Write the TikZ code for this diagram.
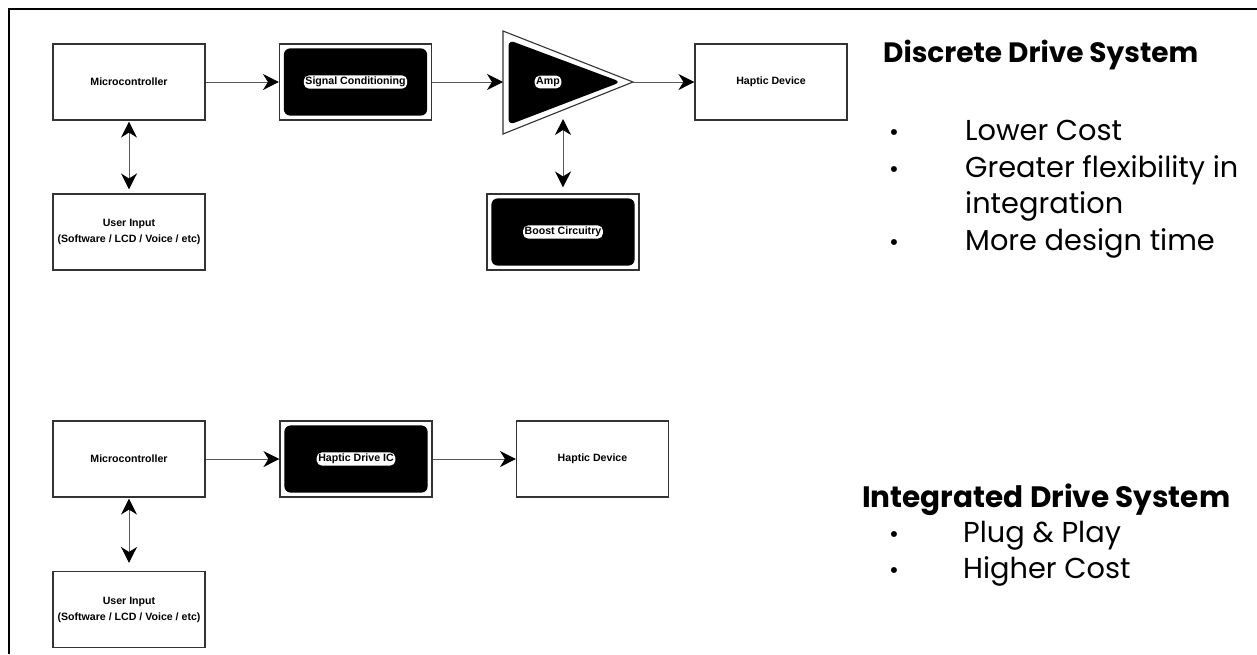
\documentclass[tikz,border=0pt]{standalone}
\usepackage{fontspec}
\setmainfont{Liberation Sans}
\newfontfamily\pop{Poppins}
\usetikzlibrary{arrows.meta}
\tikzset{
  x=1pt, y=-1pt,
  myhead/.tip={Stealth[length=16pt,width=16pt,inset=5pt,black]},
  lblfont/.style={font=\bfseries\fontsize{10.6}{16}\selectfont},
  box/.style={draw=black!80, line width=1.1pt, fill=white, minimum width=152pt, minimum height=76pt, inner sep=0pt, lblfont},
  blackin/.style={fill=black, rounded corners=6pt},
  halo/.style={fill=white, rounded corners=5pt, inner sep=1.6pt, text=black, lblfont},
  conn/.style={draw=black!65, line width=1pt, -{myhead}},
  dconn/.style={draw=black!65, line width=1pt, {myhead}-{myhead}},
  title/.style={anchor=base west, inner sep=0pt, font=\pop\bfseries\fontsize{28}{32}\selectfont},
  item/.style={anchor=base west, inner sep=0pt, font=\pop\fontsize{28.8}{34}\selectfont},
  bul/.style={anchor=base west, inner sep=0pt, font=\pop\fontsize{24}{30}\selectfont}
}
\begin{document}
\begin{tikzpicture}
\useasboundingbox (0,0) rectangle (1257,654);
\draw[line width=2.2pt] (9,654) -- (9,9) -- (1257,9);

% ---------- Discrete drive system ----------
\node[box] (mc1) at (129,82) {Microcontroller};
\node[box, align=center] (ui1) at (129,232) {User Input\\(Software / LCD / Voice / etc)};
\node[box] (sc) at (355.5,82) {};
\fill[blackin] ([shift={(5,5)}]sc.north west) rectangle ([shift={(-5,-5)}]sc.south east);
\node[halo] (sclab) at (sc) {Signal Conditioning};

% amplifier triangle
\coordinate (a1) at (503,31);
\coordinate (a2) at (503,134);
\coordinate (a3) at (633,82);
\draw[draw=black!80, line width=1.1pt, fill=white] (a1) -- (a3) -- (a2) -- cycle;
\fill[rounded corners=6pt] (508.5,40) -- (621,82) -- (508.5,125) -- cycle;
\node[halo] (amp) at (548,82) {Amp};
\coordinate (ampin) at (503,82);
\coordinate (ampbot) at (563,119);

\node[box] (hd1) at (771,82) {Haptic Device};
\node[box] (bc) at (563,232) {};
\fill[blackin] ([shift={(5,5)}]bc.north west) rectangle ([shift={(-5,-5)}]bc.south east);
\node[halo] (bclab) at (bc) {Boost Circuitry};

\draw[conn] (mc1) -- (sc);
\draw[conn] (sc) -- (ampin);
\draw[conn] (a3) -- (hd1);
\draw[dconn] (mc1.south) ++(0,1) -- ([yshift=4pt]ui1.north);
\draw[dconn] (ampbot) -- ([yshift=6pt]bc.north);

% ---------- Integrated drive system ----------
\node[box] (mc2) at (129,459) {Microcontroller};
\node[box, align=center] (ui2) at (129,609.5) {User Input\\(Software / LCD / Voice / etc)};
\node[box] (hic) at (356,459) {};
\fill[blackin] ([shift={(5,5)}]hic.north west) rectangle ([shift={(-5,-5)}]hic.south east);
\node[halo] (hiclab) at (hic) {Haptic Drive IC};
\node[box] (hd2) at (592.5,459) {Haptic Device};

\draw[conn] (mc2) -- (hic);
\draw[conn] (hic) -- (hd2);
\draw[dconn] (mc2.south) ++(0,1) -- ([yshift=8pt]ui2.north);

% ---------- Text ----------
\node[title] (t1) at (883,62) {Discrete Drive System};
\node[bul] (b11) at (889,140) {•};
\node[item] (i11) at (965,140) {Lower Cost};
\node[bul] (b12) at (889,177) {•};
\node[item] (i12) at (965,177) {Greater flexibility in};
\node[item] (i13) at (965,213) {integration};
\node[bul] (b14) at (889,250) {•};
\node[item] (i14) at (965,250) {More design time};

\node[title, font=\pop\bfseries\fontsize{29.5}{33}\selectfont] (t2) at (862,507) {Integrated Drive System};
\node[bul] (b21) at (889,542) {•};
\node[item] (i21) at (963,542) {Plug \& Play};
\node[bul] (b22) at (889,578) {•};
\node[item] (i22) at (963,578) {Higher Cost};
\end{tikzpicture}
\end{document}
